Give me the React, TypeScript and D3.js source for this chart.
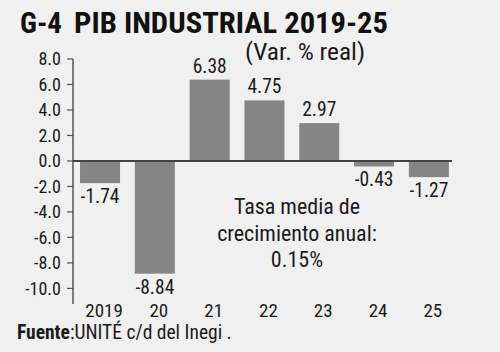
import React from "react";
import * as d3 from "d3";

const categories = ["2019", "20", "21", "22", "23", "24", "25"];
const values = [-1.74, -8.84, 6.38, 4.75, 2.97, -0.43, -1.27];
const valueLabels = ["-1.74", "-8.84", "6.38", "4.75", "2.97", "-0.43", "-1.27"];
const yTicks = [8, 6, 4, 2, 0, -2, -4, -6, -8, -10];
const noteLines = ["Tasa media de", "crecimiento anual:", "0.15%"];

const W = 500;
const H = 352;
const FONT = "'Roboto Condensed', 'Liberation Sans Narrow', 'DejaVu Sans Condensed', Roboto, sans-serif";

export default function App() {
  const x = d3
    .scaleBand<string>()
    .domain(categories)
    .range([72.9, 456])
    .paddingInner(0.27)
    .paddingOuter(0.13);
  const y = d3.scaleLinear().domain([-10, 8]).range([288.4, 59]);
  const axisX = 73;
  const bg = "#f0f0f0";
  const barColor = "#858585";
  const textColor = "#1a1a1a";

  return (
    <svg
      width={W}
      height={H}
      style={{ position: "absolute", left: 0, top: 0, background: bg }}
      fontFamily={FONT}
    >
      <rect x={0} y={0} width={W} height={H} fill={bg} />
      <text x={20} y={33} fontSize={29} fontWeight="bold" fill="#111" textLength={42} lengthAdjust="spacingAndGlyphs">
        G-4
      </text>
      <text x={74} y={33} fontSize={29} fontWeight="bold" fill="#111" textLength={314} lengthAdjust="spacingAndGlyphs">
        PIB INDUSTRIAL 2019-25
      </text>
      <text x={245} y={60} fontSize={23} fill={textColor} textLength={120} lengthAdjust="spacingAndGlyphs">
        (Var. % real)
      </text>

      {values.map((v, i) => (
        <rect
          key={categories[i]}
          x={x(categories[i])}
          width={x.bandwidth()}
          y={y(Math.max(0, v))}
          height={Math.abs(y(v) - y(0))}
          fill={barColor}
        />
      ))}

      {values.map((v, i) => (
        <text
          key={"l" + i}
          x={(x(categories[i]) as number) + x.bandwidth() / 2}
          y={v >= 0 ? y(v) - 7 : y(v) + 20}
          textAnchor="middle"
          fontSize={19.5}
          fill={textColor}
        >
          {valueLabels[i]}
        </text>
      ))}

      <line x1={axisX} x2={axisX} y1={y(8)} y2={304} stroke="#555" strokeWidth={1.5} />
      {yTicks.map((t) => (
        <g key={t}>
          <line x1={axisX - 6} x2={axisX} y1={y(t)} y2={y(t)} stroke="#555" strokeWidth={1.2} />
          <text x={61} y={y(t)} dy="0.35em" textAnchor="end" fontSize={18} fill={textColor}>
            {t.toFixed(1)}
          </text>
        </g>
      ))}
      <line x1={axisX} x2={452} y1={y(0)} y2={y(0)} stroke="#444" strokeWidth={2} />

      {categories.map((c) => (
        <text
          key={"x" + c}
          x={(x(c) as number) + x.bandwidth() / 2 + 4}
          y={316.5}
          textAnchor="middle"
          fontSize={19}
          fill={textColor}
        >
          {c}
        </text>
      ))}

      {noteLines.map((s, i) => (
        <text key={"n" + i} x={297} y={214 + i * 26.5} textAnchor="middle" fontSize={22} fill={textColor}>
          {s}
        </text>
      ))}

      <text x={17} y={339} fontSize={19.5} fill={textColor}>
        <tspan fontWeight="bold">Fuente</tspan>
        <tspan>:UNITÉ c/d del Inegi .</tspan>
      </text>
    </svg>
  );
}
